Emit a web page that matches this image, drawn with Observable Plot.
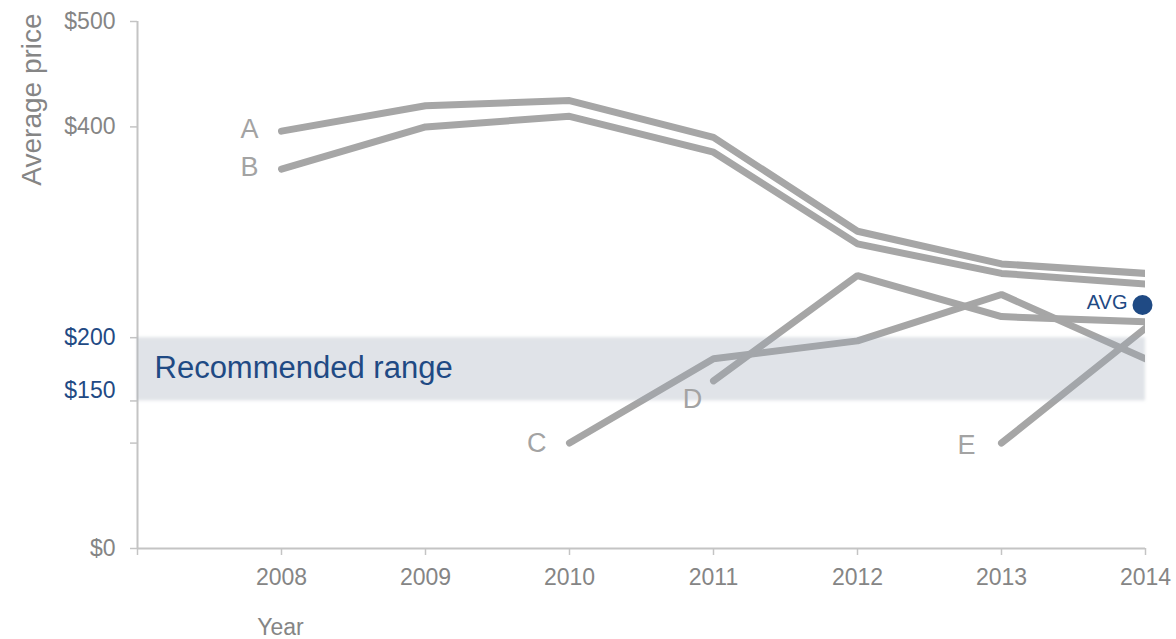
<!DOCTYPE html>
<html>
<head>
<meta charset="utf-8">
<script src="https://cdn.jsdelivr.net/npm/d3@7"></script>
<script src="https://cdn.jsdelivr.net/npm/@observablehq/plot@0.6"></script>
<style>
  html, body { margin: 0; padding: 0; background: #fff; }
  svg { font-family: "Liberation Sans", Arial, sans-serif; }
</style>
</head>
<body>
<div id="chart"></div>
<script>
const years = [2008, 2009, 2010, 2011, 2012, 2013, 2014];
const seriesNames = ["A", "B", "C", "D", "E"];
const valuesA = [396, 420, 425, 390, 301, 270, 261];
const valuesB = [360, 400, 410, 376, 289, 261, 251];
const valuesC = [null, null, 100, 180, 197, 241, 180];
const valuesD = [null, null, null, 159, 259, 220, 215];
const valuesE = [null, null, null, null, null, 100, 209];
const avgYear = 2014;
const avgValue = 231;
const rangeLow = 140;
const rangeHigh = 200;
const yTicks = [0, 100, 140, 200, 400, 500];
const yLabelValues = [0, 150, 200, 400, 500];
const yLabelText = ["$0", "$150", "$200", "$400", "$500"];
const yLabelBlue = [false, true, true, false, false];
const xTicks = [2007, 2008, 2009, 2010, 2011, 2012, 2013, 2014];

const allValues = [valuesA, valuesB, valuesC, valuesD, valuesE];
const rows = [];
seriesNames.forEach((s, i) => {
  years.forEach((y, j) => {
    const v = allValues[i][j];
    if (v != null) rows.push({series: s, year: y, value: v});
  });
});
const firstPoints = seriesNames.map(s => rows.find(r => r.series === s));
const labelOffsets = {
  A: {dx: -23, dy: -2, anchor: "end"},
  B: {dx: -23, dy: -2, anchor: "end"},
  C: {dx: -23, dy: 0, anchor: "end"},
  D: {dx: -21, dy: 18, anchor: "middle"},
  E: {dx: -26, dy: 2, anchor: "end"}
};

const yLabels = yLabelValues.map((v, i) => ({value: v, text: yLabelText[i], blue: yLabelBlue[i]}));

const grey = "#858585";
const lineGrey = "#a6a6a6";
const blue = "#1f4a84";
const axisGrey = "#c4c4c4";

const seriesLabelMarks = firstPoints.map(p => {
  const o = labelOffsets[p.series];
  return Plot.text([p], {x: "year", y: "value", text: "series", dx: o.dx, dy: o.dy, textAnchor: o.anchor, fontSize: 27, fill: "#a3a3a3"});
});

const chart = Plot.plot({
  width: 1176,
  height: 639,
  marginLeft: 137,
  marginRight: 31,
  marginTop: 21,
  marginBottom: 91,
  x: {type: "linear", domain: [2007, 2014], axis: null},
  y: {type: "linear", domain: [0, 500], axis: null},
  style: {fontFamily: "Liberation Sans, Arial, sans-serif", background: "#fff"},
  marks: [
    Plot.ruleX([2007], {y1: 0, y2: 500, stroke: axisGrey, strokeWidth: 2}),
    Plot.ruleY([0], {x1: 2007, x2: 2014, stroke: axisGrey, strokeWidth: 2}),
    Plot.axisY({ticks: yTicks, tickFormat: () => "", tickSize: 7, stroke: axisGrey, anchor: "left", strokeWidth: 1.5, label: null}),
    Plot.axisX({ticks: xTicks, tickFormat: d => d === 2007 ? "" : String(d), tickSize: 7, tickPadding: 13, stroke: axisGrey, color: grey, fontSize: 23, anchor: "bottom", strokeWidth: 1.5, label: null}),
    Plot.text(yLabels, {x: d => 2007, y: "value", text: "text", dx: -22, textAnchor: "end", fontSize: 23, fill: d => d.blue ? blue : grey}),
    Plot.text([{x: 2007, y: 500, t: "Average price"}], {x: "x", y: "y", dx: -105, dy: 78, text: "t", rotate: -90, fontSize: 28, fill: grey}),
    Plot.text([{x: 2007, y: 0, t: "Year"}], {x: "x", y: "y", dx: 143, dy: 79, text: "t", fontSize: 23, fill: grey}),
    Plot.line(rows, {x: "year", y: "value", z: "series", stroke: lineGrey, strokeWidth: 7, strokeLinecap: "round", strokeLinejoin: "miter", clip: true}),
    Plot.rect([{x1: 2007, x2: 2014, y1: rangeLow, y2: rangeHigh}], {x1: "x1", x2: "x2", y1: "y1", y2: "y2", fill: "rgb(155,165,181)", fillOpacity: 0.31, className: "band"}),
    Plot.text([{x: 2007, y: (rangeLow + rangeHigh) / 2, t: "Recommended range"}], {x: "x", y: "y", dx: 17, dy: -1, text: "t", textAnchor: "start", fill: blue, fontSize: 31}),
    ...seriesLabelMarks,
    Plot.dot([{year: avgYear, value: avgValue}], {x: "year", y: "value", r: 10, fill: blue, dx: -3}),
    Plot.text([{year: avgYear, value: avgValue, t: "AVG"}], {x: "year", y: "value", dx: -18, dy: -2, text: "t", textAnchor: "end", fontSize: 20, fill: blue})
  ]
});

// soft edge on the recommended-range band
const svg = d3.select(chart);
const defs = svg.insert("defs", ":first-child");
defs.append("filter").attr("id", "soft").attr("x", "-5%").attr("y", "-20%").attr("width", "110%").attr("height", "140%")
  .append("feGaussianBlur").attr("stdDeviation", 1.5);
svg.selectAll("g.band rect").attr("filter", "url(#soft)");

document.getElementById("chart").appendChild(chart);
</script>
</body>
</html>
